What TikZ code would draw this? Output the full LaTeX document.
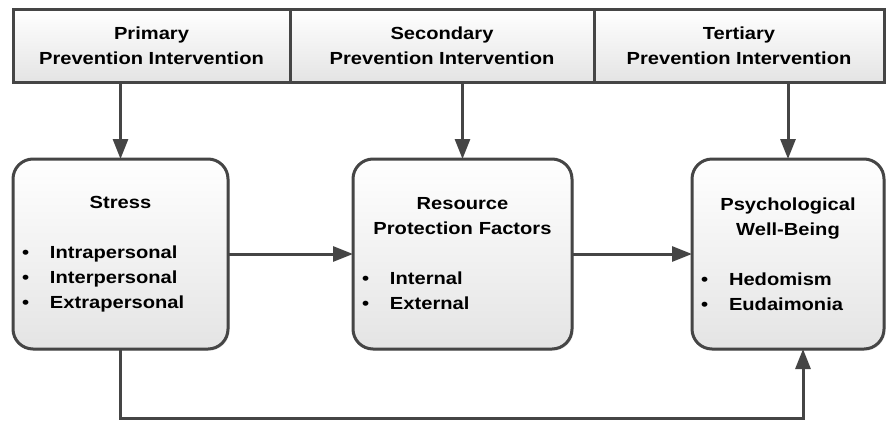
\documentclass[tikz,border=0pt]{standalone}
\usepackage{fontspec}
\setmainfont{Liberation Sans}[FakeStretch=1.15]
\usetikzlibrary{positioning,arrows.meta,shadows}

\definecolor{linegray}{HTML}{454545}
\definecolor{boxgray}{HTML}{E4E4E4}
\newcommand{\bulletitem}[1]{\makebox[28pt][l]{\textbullet}#1}

\begin{document}
\begin{tikzpicture}[
    x=1pt, y=-1pt,
    txt/.style={font=\fontsize{17.5}{25}\selectfont\bfseries, text=black},
    level/.style={txt, draw=linegray, line width=3pt, outer sep=0pt, minimum height=73pt,
        top color=white, bottom color=boxgray, align=center,
        drop shadow={opacity=0.2, shadow xshift=1.5pt, shadow yshift=-1.5pt}},
    factor/.style={txt, draw=linegray, line width=3pt, outer sep=0pt, rounded corners=20pt,
        minimum height=190pt, inner xsep=9pt, align=left,
        top color=white, bottom color=boxgray,
        drop shadow={opacity=0.2, shadow xshift=1.5pt, shadow yshift=-1.5pt}},
    arr/.style={-{Triangle[length=20pt,width=15pt]}, draw=linegray, line width=3pt}
]
\useasboundingbox (0,0) rectangle (886,421);

% prevention levels
\node[level, minimum width=277pt] (primary)   at (151.5,45.5) {Primary\\Prevention Intervention};
\node[level, minimum width=304pt] (secondary) at (442,45.5)   {Secondary\\Prevention Intervention};
\node[level, minimum width=290pt] (tertiary)  at (739,45.5)   {Tertiary\\Prevention Intervention};

% model boxes
\node[factor, minimum width=215pt, text width=197pt] (stress) at (120.5,254)
    {{\centering Stress\par}\vspace{25pt}
     \bulletitem{Intrapersonal}\\\bulletitem{Interpersonal}\\\bulletitem{Extrapersonal}};
\node[factor, minimum width=219pt, text width=201pt] (resource) at (462.5,254)
    {{\centering Resource\\Protection Factors\par}\vspace{25pt}
     \bulletitem{Internal}\\\bulletitem{External}};
\node[factor, minimum width=192pt, text width=174pt] (wellbeing) at (788,254)
    {{\centering Psychological\\Well-Being\par}\vspace{25pt}
     \bulletitem{Hedomism}\\\bulletitem{Eudaimonia}};

\coordinate (back) at (803,418);

\draw[arr] (stress.north |- primary.south) -- (stress.north);
\draw[arr] (resource.north |- secondary.south) -- (resource.north);
\draw[arr] (wellbeing.north |- tertiary.south) -- (wellbeing.north);
\draw[arr] (stress) -- (resource);
\draw[arr] (resource) -- (wellbeing);
\draw[arr] (stress.south) |- (back) -- (back |- wellbeing.south);
\end{tikzpicture}
\end{document}
